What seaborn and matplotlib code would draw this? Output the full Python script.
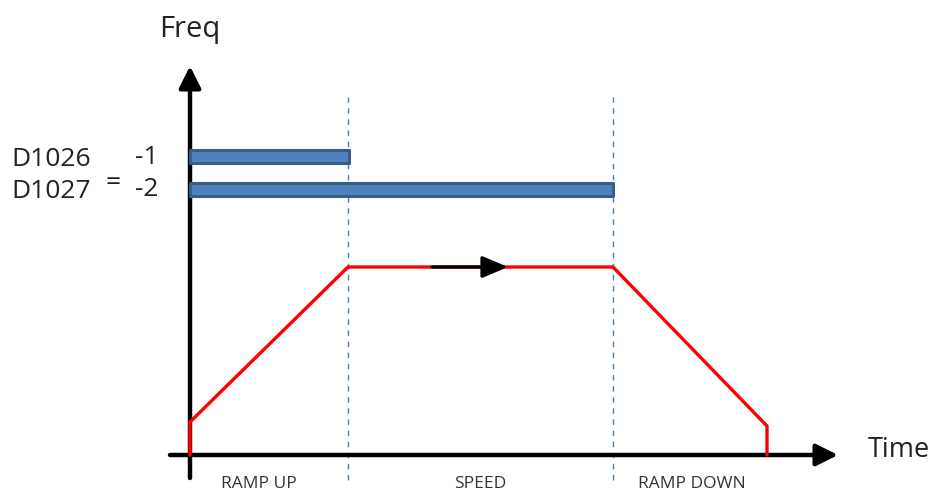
import matplotlib
matplotlib.use("Agg")
import matplotlib.pyplot as plt
import numpy as np
import pandas as pd
import seaborn as sns

# frequency profile (time / freq in drawing units, origin at axis crossing)
time = [0, 0, 158, 423, 577, 577]
freq = [0, 33, 188, 188, 29, 0]

# phase boundaries and labels
bounds = [158, 423]
phase_labels = ["RAMP UP", "SPEED", "RAMP DOWN"]
phase_centers = [69, 290, 502]

# register bars D1026 / D1027
bar_names = ["-1", "-2"]
bar_levels = [298, 265]
bar_ends = [159, 423]

sns.set_theme(style="white")
plt.rcParams["font.family"] = ["Open Sans", "DejaVu Sans"]

fig = plt.figure(figsize=(9.34, 4.94), dpi=100)
ax = fig.add_axes([0, 0, 1, 1])
ax.set_xlim(-190, 744)
ax.set_ylim(-39, 455)
ax.axis("off")

# axes with arrows
ax.annotate("", xy=(648, 0), xytext=(-20, 0),
            arrowprops=dict(arrowstyle="-|>,head_length=1.1,head_width=0.55",
                            lw=3.2, color="black", shrinkA=0, shrinkB=0))
ax.annotate("", xy=(0, 389), xytext=(0, -23),
            arrowprops=dict(arrowstyle="-|>,head_length=1.1,head_width=0.55",
                            lw=3.2, color="black", shrinkA=0, shrinkB=0))

# dashed phase boundaries
for b in bounds:
    ax.plot([b, b], [-25, 358], color="#4a7ebb", lw=1, ls=(0, (4, 4)), zorder=1)

# bars
ax.barh(bar_levels, bar_ends, left=0, height=13, color="#4f81bd",
        edgecolor="#385d8a", linewidth=2.2, joinstyle="round", zorder=3)

# red profile
df = pd.DataFrame({"time": time, "freq": freq})
sns.lineplot(data=df, x="time", y="freq", sort=False, estimator=None,
             color="#ff0000", lw=2.4, ax=ax, zorder=4)

# black arrow on constant speed segment
ax.annotate("", xy=(318, 188), xytext=(242, 188),
            arrowprops=dict(arrowstyle="-|>,head_length=1.3,head_width=0.55",
                            lw=2.4, color="black", shrinkA=0, shrinkB=0), zorder=5)

# text
ax.text(0, 425, "Freq", fontsize=21, ha="center", va="center", color="#222222")
ax.text(709, 5, "Time", fontsize=19.5, ha="center", va="center", color="#222222")
ax.text(-179, 295, "D1026", fontsize=19, ha="left", va="center", color="#222222")
ax.text(-179, 264, "D1027", fontsize=19, ha="left", va="center", color="#222222")
ax.text(-77, 272, "=", fontsize=19, ha="center", va="center", color="#222222")
for lev, name in zip(bar_levels, bar_names):
    ax.text(-43, lev, name, fontsize=19, ha="center", va="center", color="#222222")
for c, lab in zip(phase_centers, phase_labels):
    ax.text(c, -29, lab, fontsize=12.5, ha="center", va="center", color="#333333")

fig.savefig("out.png", dpi=100)
